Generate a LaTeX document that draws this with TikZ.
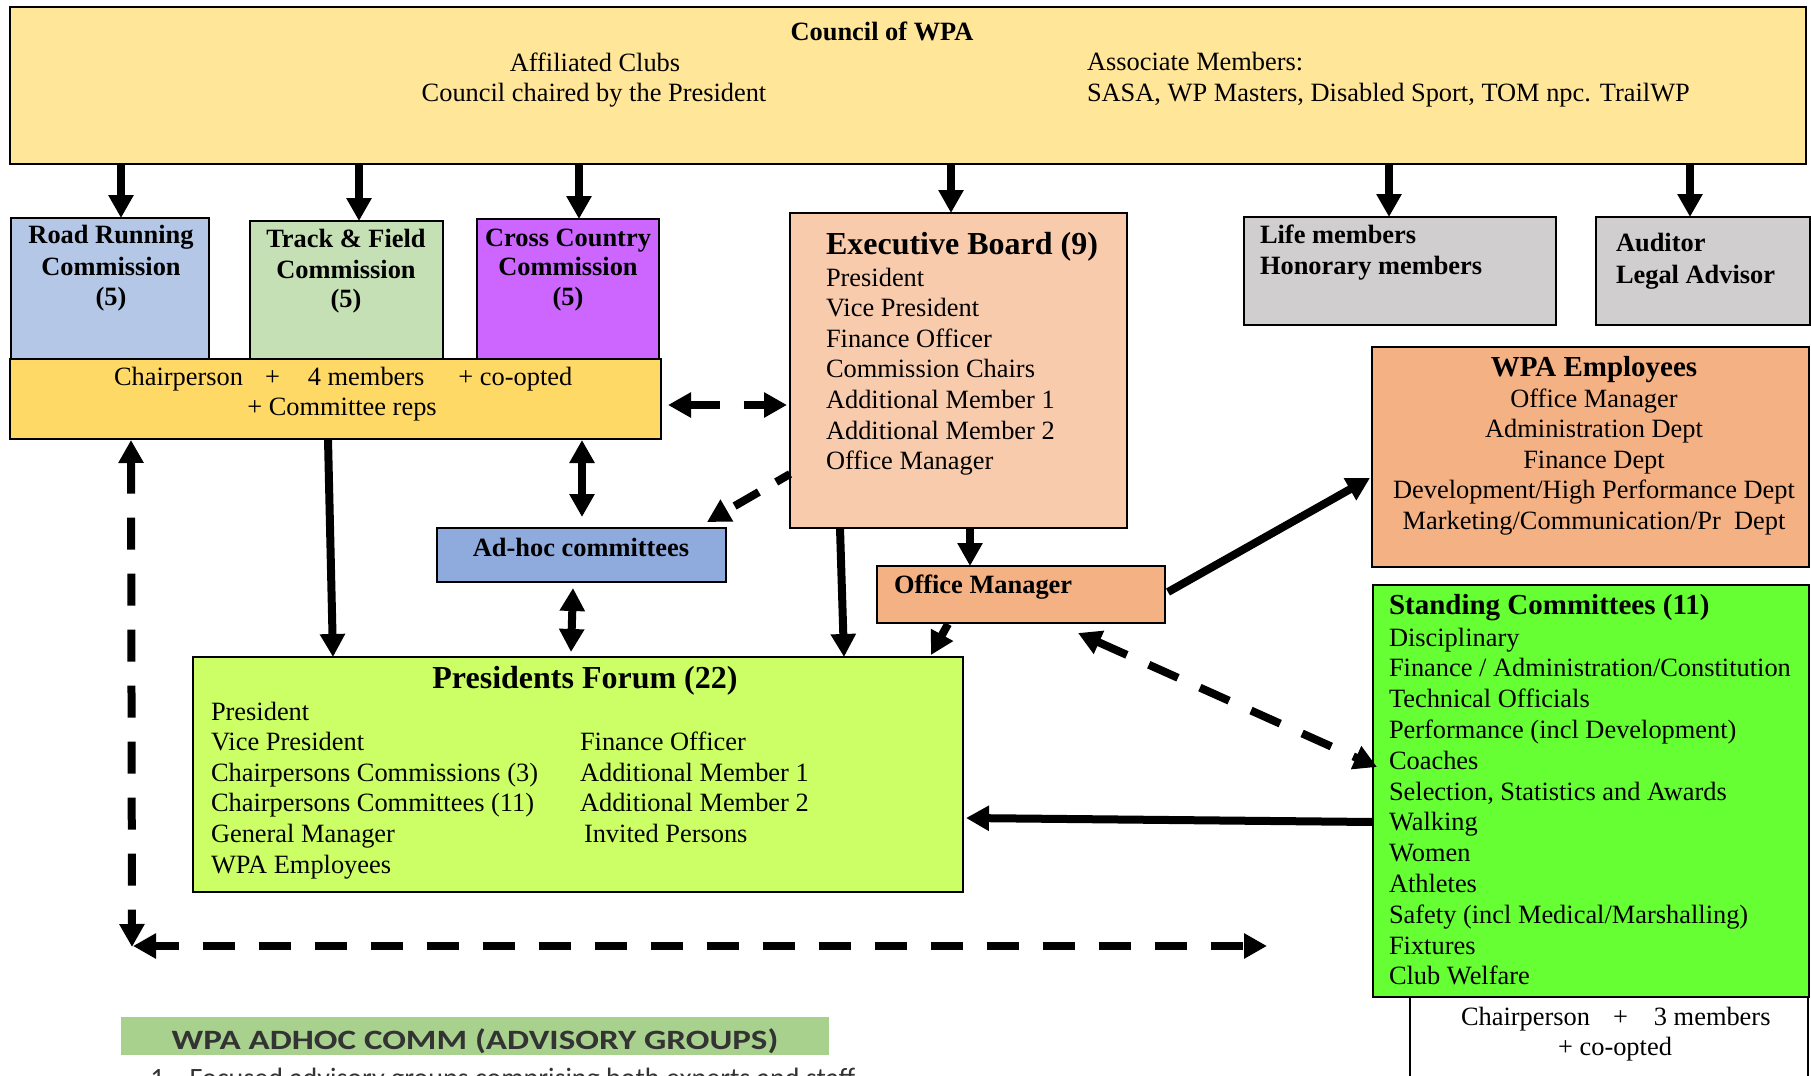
\documentclass[tikz,border=0pt]{standalone}
\usepackage{fontspec}
\setmainfont{Liberation Serif}
\newfontfamily\calib{Carlito}
\usetikzlibrary{arrows.meta,calc}
\definecolor{cCouncil}{HTML}{FFE699}
\definecolor{cRoad}{HTML}{B4C7E7}
\definecolor{cTrack}{HTML}{C5E0B4}
\definecolor{cCross}{HTML}{CC66FF}
\definecolor{cChair}{HTML}{FFD966}
\definecolor{cExec}{HTML}{F8CBAD}
\definecolor{cGrey}{HTML}{D0CECE}
\definecolor{cEmp}{HTML}{F4B183}
\definecolor{cStand}{HTML}{66FF33}
\definecolor{cForum}{HTML}{CCFF66}
\definecolor{cAdhoc}{HTML}{8FAADC}
\definecolor{cBar}{HTML}{A9D18E}
\newcommand{\myfs}{\fontsize{13.2pt}{15.3pt}\selectfont}
\newcommand{\myfsbig}{\fontsize{16pt}{19pt}\selectfont}
\newcommand{\myfsmid}{\fontsize{14.5pt}{17pt}\selectfont}
\begin{document}
\begin{tikzpicture}[x=0.5pt,y=-0.5pt,
  bx/.style={draw=black, line width=0.9pt, anchor=north west, inner sep=0pt, outer sep=0pt},
  t/.style={inner sep=0pt, outer sep=0pt, font=\myfs, anchor=base west},
  tc/.style={t, anchor=base},
  tb/.style={t, font=\myfs\bfseries},
  tcb/.style={tc, font=\myfs\bfseries},
  arr/.style={line width=4pt, -{Triangle[width=12pt,length=11.5pt]}},
  darr/.style={line width=4pt, {Triangle[width=12pt,length=11.5pt]}-{Triangle[width=12pt,length=11.5pt]}},
  dsh/.style={dash pattern=on 16pt off 12pt}]
\useasboundingbox (0,0) rectangle (1811,1076);
\clip (0,0) rectangle (1811,1076);
\fill[white] (0,0) rectangle (1811,1076);

% boxes
\node[bx, fill=cCouncil, minimum width=898pt, minimum height=78.5pt] (council) at (10,7) {};
\node[bx, fill=cRoad, minimum width=99pt, minimum height=70.5pt] (road) at (11,218) {};
\node[bx, fill=cTrack, minimum width=96.5pt, minimum height=69pt] (track) at (250,221) {};
\node[bx, fill=cCross, minimum width=91pt, minimum height=70pt] (cross) at (477,219) {};
\node[bx, fill=cChair, minimum width=325.5pt, minimum height=40pt] (chair) at (10,359) {};
\node[bx, fill=cExec, minimum width=168.5pt, minimum height=157.5pt] (exec) at (790,213) {};
\node[bx, fill=cGrey, minimum width=156pt, minimum height=54pt] (life) at (1244,217) {};
\node[bx, fill=cGrey, minimum width=107pt, minimum height=54pt] (aud) at (1596,217) {};
\node[bx, fill=cEmp, minimum width=218.5pt, minimum height=110pt] (emp) at (1372,347) {};
\node[bx, fill=cEmp, minimum width=144pt, minimum height=28.5pt] (office) at (877,566) {};
\node[bx, fill=white, minimum width=199pt, minimum height=50pt] (white) at (1410,997) {};
\node[bx, fill=cStand, minimum width=218pt, minimum height=206pt] (stand) at (1373,585) {};
\node[bx, fill=cForum, minimum width=385pt, minimum height=117.5pt] (forum) at (193,657) {};
\node[bx, fill=cAdhoc, minimum width=144.5pt, minimum height=27pt] (adhoc) at (437,528) {};
\node[anchor=north west, inner sep=0pt, fill=cBar, minimum width=354pt, minimum height=19pt] (bar) at (121,1017) {};

% arrows from council
\draw[arr] ($(council.south west)+(111,0)$) -- ($(road.north west)+(110,0)$);
\draw[arr] ($(council.south west)+(349,0)$) -- ($(track.north west)+(109,0)$);
\draw[arr] ($(council.south west)+(569,0)$) -- ($(cross.north west)+(102,0)$);
\draw[arr] ($(council.south west)+(941,0)$) -- ($(exec.north west)+(161,0)$);
\draw[arr] ($(council.south west)+(1379,0)$) -- ($(life.north west)+(145,0)$);
\draw[arr] ($(council.south west)+(1680,0)$) -- ($(aud.north west)+(94,0)$);

% other connectors
\draw[darr, dash pattern=on 15pt off 12pt] ($(chair.north east)+(7,46)$) -- ($(exec.north west)+(-3,192)$);
\draw[arr, dash pattern=on 14pt off 10pt, dash phase=6pt] ($(exec.north west)+(0,261)$) -- ($(adhoc.north east)+(-19,-6)$);
\draw[arr] ($(chair.south west)+(318,0)$) -- ($(forum.north west)+(140,0)$);
\draw[arr] ($(exec.south west)+(50,0)$) -- ($(forum.north west)+(651,0)$);
\draw[darr] ($(chair.south west)+(572,1)$) -- ($(adhoc.north west)+(145,-11)$);
\draw[darr] ($(adhoc.south west)+(136,6)$) -- ($(forum.north west)+(378,-5)$);
\draw[arr] ($(exec.south west)+(180,0)$) -- ($(office.north west)+(93,0)$);
\draw[arr] ($(office.north east)+(3,26)$) -- ($(emp.north west)+(-2,131)$);
\draw[arr] ($(office.south west)+(71,1)$) -- ($(forum.north east)+(-32,-2)$);
\draw[darr, dsh] ($(office.south west)+(201,10)$) -- ($(stand.north west)+(4,182)$);
\draw[arr] ($(stand.north west)+(0,237)$) -- ($(forum.north east)+(3,161)$);
\coordinate (corner) at (132,947);
\coordinate (corner2) at (133,946);
\coordinate (hend) at (1267,946);
\draw[darr, dsh] ($(chair.south west)+(121,1)$) -- (corner);
\draw[darr, dsh, dash phase=4pt] (corner2) -- (hend);

% council texts
\node[tcb] (tc1) at (882,40) {Council of WPA};
\node[tc] (tc2) at (595,71) {Affiliated Clubs};
\node[tc] (tc3) at (594,101) {Council chaired by the President};
\node[t] (tc4) at (1087,70) {Associate Members:};
\node[t] (tc5) at (1087,101) {SASA, WP Masters, Disabled Sport, TOM npc. TrailWP};

% commissions
\node[tcb] (r1) at (111,243) {Road Running};
\node[tcb] (r2) at (111,275) {Commission};
\node[tcb] (r3) at (111,305) {(5)};
\node[tcb] (k1) at (346,247) {Track \& Field};
\node[tcb] (k2) at (346,278) {Commission};
\node[tcb] (k3) at (346,307) {(5)};
\node[tcb] (c1) at (568,246) {Cross Country};
\node[tcb] (c2) at (568,275) {Commission};
\node[tcb] (c3) at (568,305) {(5)};
\node[t] (ch1) at (114,385) {Chairperson\hspace*{11pt}+\hspace*{14pt}4 members\hspace*{17pt}+ co-opted};
\node[tc] (ch2) at (342,415) {+ Committee reps};

% executive
\node[t, font=\myfsbig\bfseries] (ext) at (826,254) {Executive Board (9)};
\foreach \s [count=\i] in {President, Vice President, Finance Officer, Commission Chairs, Additional Member 1, Additional Member 2, Office Manager}
  \node[t] (ex\i) at (826,{286+30.6*(\i-1)}) {\s};

% life / auditor
\node[tb] (l1) at (1260,243) {Life members};
\node[tb] (l2) at (1260,274) {Honorary members};
\node[tb] (a1) at (1616,251) {Auditor};
\node[tb] (a2) at (1616,283) {Legal Advisor};

% employees
\node[tc, font=\myfsmid\bfseries] (empt) at (1594,376) {WPA Employees};
\foreach \s [count=\i] in {Office Manager, Administration Dept, Finance Dept, Development/High Performance Dept, Marketing/Communication/Pr\ \ Dept}
  \node[tc] (em\i) at (1594,{407+30.5*(\i-1)}) {\s};

% office manager, adhoc
\node[tb] (oft) at (894,593) {Office Manager};
\node[tcb] (adt) at (581,556) {Ad-hoc committees};

% forum
\node[tc, font=\myfsbig\bfseries] (fot) at (585,688) {Presidents Forum (22)};
\foreach \s [count=\i] in {President, Vice President, Chairpersons Commissions (3), Chairpersons Committees (11), General Manager, WPA Employees}
  \node[t] (fl\i) at (211,{720+30.6*(\i-1)}) {\s};
\foreach \s [count=\i] in {Finance Officer, Additional Member 1, Additional Member 2, \hspace*{2pt}Invited Persons}
  \node[t] (fr\i) at (580,{750.6+30.6*(\i-1)}) {\s};

% standing committees
\node[t, font=\myfsmid\bfseries] (stt) at (1389,614) {Standing Committees (11)};
\foreach \s [count=\i] in {Disciplinary, Finance / Administration/Constitution, Technical Officials, Performance (incl Development), Coaches, {Selection, Statistics and Awards}, Walking, Women, Athletes, Safety (incl Medical/Marshalling), Fixtures, Club Welfare}
  \node[t] (st\i) at (1389,{646+30.8*(\i-1)}) {\s};

% white box
\node[t] (w1) at (1461,1025) {Chairperson\hspace*{11.5pt}+\hspace*{13pt}3 members};
\node[tc] (w2) at (1615,1055) {+ co-opted};

% bottom bar
\node[inner sep=0pt, anchor=base, font=\calib\fontsize{14pt}{16pt}\selectfont\bfseries, text=black!80, xscale=1.25] (bart) at (475,1049) {WPA ADHOC COMM (ADVISORY GROUPS)};
\node[inner sep=0pt, anchor=base west, font=\calib\fontsize{14pt}{16pt}\selectfont, text=black!80] (bl) at (150,1087) {1.\hspace*{9pt}Focused advisory groups comprising both experts and staff};
\end{tikzpicture}
\end{document}
